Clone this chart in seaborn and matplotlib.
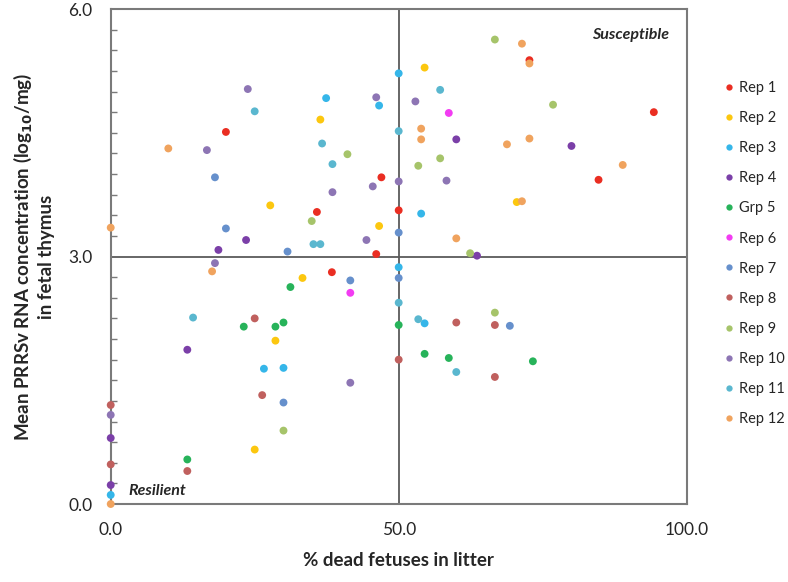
import matplotlib
matplotlib.use("Agg")
import numpy as np
import pandas as pd
import matplotlib.pyplot as plt
import seaborn as sns
from matplotlib.ticker import MultipleLocator

groups = ["Rep 1", "Rep 2", "Rep 3", "Rep 4", "Grp 5", "Rep 6",
          "Rep 7", "Rep 8", "Rep 9", "Rep 10", "Rep 11", "Rep 12"]
colors = ["#ea2e22", "#fcc70f", "#35b6e9", "#7b3fa8", "#27b35a", "#f23cf2",
          "#6690cc", "#c0605e", "#a6c46a", "#8d75b4", "#5ab7cf", "#f0a35e"]

rep1_x = [20.0, 47.0, 35.8, 50.0, 46.1, 72.7, 94.3, 84.7, 38.4]
rep1_y = [4.51, 3.96, 3.54, 3.56, 3.03, 5.38, 4.75, 3.93, 2.81]
rep2_x = [27.7, 54.5, 36.4, 46.6, 70.5, 33.3, 28.6, 25.0]
rep2_y = [3.62, 5.29, 4.66, 3.37, 3.66, 2.74, 1.98, 0.66]
rep3_x = [50.0, 37.4, 46.6, 53.9, 26.6, 30.0, 0.0, 50.0, 54.5]
rep3_y = [5.22, 4.92, 4.83, 3.52, 1.64, 1.65, 0.11, 2.87, 2.19]
rep4_x = [23.5, 18.7, 60.0, 63.6, 80.0, 13.3, 0.0, 0.0]
rep4_y = [3.20, 3.08, 4.42, 3.01, 4.34, 1.87, 0.80, 0.23]
grp5_x = [31.2, 23.1, 28.6, 30.0, 13.3, 50.0, 54.5, 58.7, 73.3]
grp5_y = [2.63, 2.15, 2.15, 2.20, 0.54, 2.17, 1.82, 1.77, 1.73]
rep6_x = [58.7, 41.6]
rep6_y = [4.74, 2.56]
rep7_x = [18.1, 20.0, 30.7, 50.0, 30.0, 50.0, 41.6, 69.3]
rep7_y = [3.96, 3.34, 3.06, 3.29, 1.23, 2.74, 2.71, 2.16]
rep8_x = [25.0, 26.3, 0.0, 0.0, 13.3, 60.0, 66.7, 50.0, 66.7]
rep8_y = [2.25, 1.32, 1.20, 0.48, 0.40, 2.20, 2.17, 1.75, 1.54]
rep9_x = [66.7, 41.1, 57.2, 53.4, 34.9, 62.4, 76.8, 30.0, 66.7]
rep9_y = [5.63, 4.24, 4.19, 4.10, 3.43, 3.04, 4.84, 0.89, 2.32]
rep10_x = [23.8, 16.7, 46.1, 52.9, 50.0, 58.3, 45.5, 38.5, 44.4, 18.1, 0.0, 41.6]
rep10_y = [5.03, 4.29, 4.93, 4.88, 3.91, 3.92, 3.85, 3.78, 3.20, 2.92, 1.08, 1.47]
rep11_x = [25.0, 57.2, 50.0, 36.7, 38.5, 35.2, 36.4, 14.3, 50.0, 53.4, 60.0]
rep11_y = [4.76, 5.02, 4.52, 4.37, 4.12, 3.15, 3.15, 2.26, 2.44, 2.24, 1.60]
rep12_x = [10.0, 0.0, 53.9, 53.9, 60.0, 71.4, 72.7, 68.8, 72.7, 88.9, 71.4, 17.6, 0.0]
rep12_y = [4.31, 3.35, 4.55, 4.42, 3.22, 5.58, 5.34, 4.36, 4.43, 4.11, 3.67, 2.82, 0.0]

xs = [rep1_x, rep2_x, rep3_x, rep4_x, grp5_x, rep6_x,
      rep7_x, rep8_x, rep9_x, rep10_x, rep11_x, rep12_x]
ys = [rep1_y, rep2_y, rep3_y, rep4_y, grp5_y, rep6_y,
      rep7_y, rep8_y, rep9_y, rep10_y, rep11_y, rep12_y]

frames = []
for g, x, y in zip(groups, xs, ys):
    frames.append(pd.DataFrame({"group": g, "dead": x, "rna": y}))
df = pd.concat(frames, ignore_index=True)

sns.set_style("white")
plt.rcParams['font.family'] = ['Lato', 'DejaVu Sans']
axis_col = "#7a7a7a"

fig = plt.figure(figsize=(7.88, 5.82), dpi=100)
ax = fig.add_axes([0.1405, 0.134, 0.8714 - 0.1405, 0.9845 - 0.134])

# quadrant lines
ax.axvline(50, color="#5a5a5a", lw=1.3, zorder=1)
ax.axhline(3, color="#5a5a5a", lw=1.3, zorder=1)

sns.scatterplot(data=df, x="dead", y="rna", hue="group", hue_order=groups,
                palette=dict(zip(groups, colors)), s=32, edgecolor="none",
                ax=ax, clip_on=False, zorder=3)

ax.set_xlim(0, 100)
ax.set_ylim(0, 6)
ax.set_xticks([0, 50, 100])
ax.set_xticklabels(["0.0", "50.0", "100.0"])
ax.set_yticks([0, 3, 6])
ax.set_yticklabels(["0.0", "3.0", "6.0"])
ax.yaxis.set_minor_locator(MultipleLocator(0.25))
ax.tick_params(axis="both", which="major", direction="out", length=5,
               width=1.2, color=axis_col, labelsize=12.5, pad=8)
ax.tick_params(axis="x", which="major", pad=8)
ax.tick_params(axis="y", which="minor", direction="in", length=4,
               width=1.0, color=axis_col, left=True)
for sp in ax.spines.values():
    sp.set_color(axis_col)
    sp.set_linewidth(1.5)

ax.set_xlabel("% dead fetuses in litter", fontsize=13.5, fontweight="bold",
              labelpad=10)
ax.set_ylabel("Mean PRRSv RNA concentration (log$_{\\mathbf{10}}$/mg)\nin fetal thymus",
              fontsize=13.5, fontweight="bold", labelpad=10, linespacing=1.25)

ax.text(0.97, 0.948, "Susceptible", transform=ax.transAxes, ha="right",
        va="center", fontsize=11.5, fontweight="bold", fontstyle="italic")
ax.text(0.03, 0.026, "Resilient", transform=ax.transAxes, ha="left",
        va="center", fontsize=11.5, fontweight="bold", fontstyle="italic")

handles, labels = ax.get_legend_handles_labels()
ax.legend(handles, labels, loc="upper left", frameon=False,
          bbox_to_anchor=(718 / 788, 1 - 74 / 582), bbox_transform=fig.transFigure,
          fontsize=10.5, labelspacing=1.1, handlelength=0.5, handletextpad=0.45,
          markerscale=0.8, borderpad=0)

fig.savefig("out.png", dpi=100)
